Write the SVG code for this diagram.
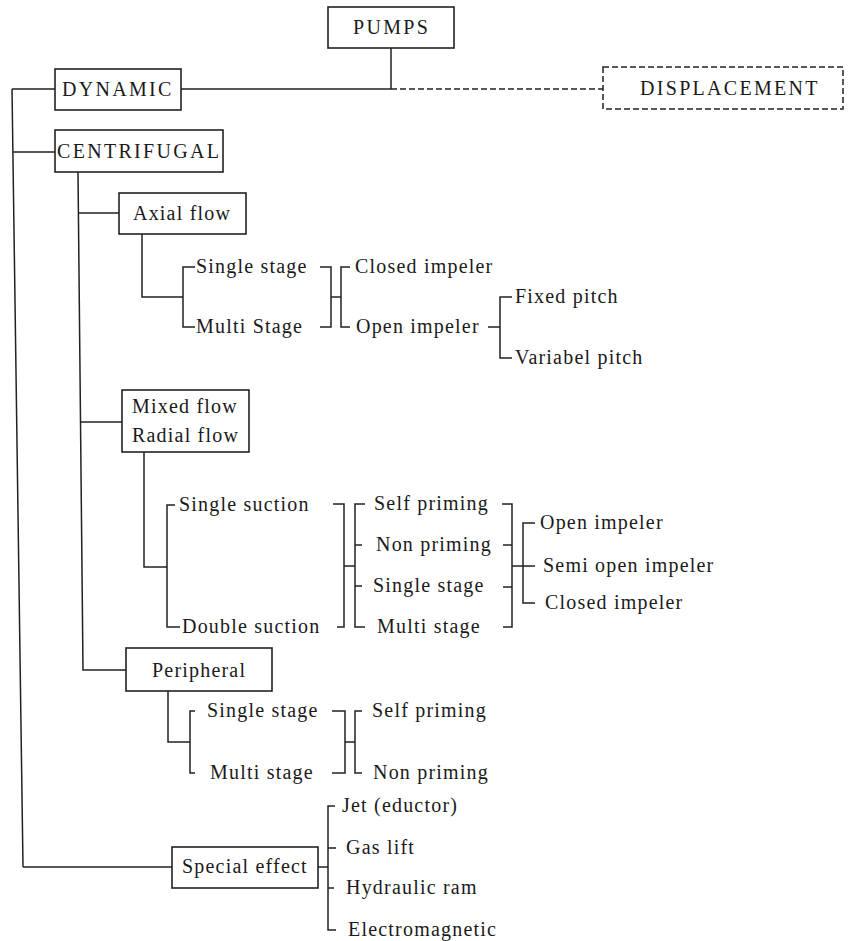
<svg xmlns="http://www.w3.org/2000/svg" width="850" height="941" viewBox="0 0 850 941">
<style>
.box{fill:#fff;stroke:#222;stroke-width:1.6}
.dbox{fill:#fff;stroke:#222;stroke-width:1.5;stroke-dasharray:6 3}
.ln{stroke:#222;stroke-width:1.5;fill:none}
.dl{stroke-dasharray:6 3}
text{font-family:"Liberation Serif","Times New Roman",serif;font-size:20px;fill:#1a1a1a;letter-spacing:1.2px}
.caps{letter-spacing:2.3px}
</style>
<rect width="850" height="941" fill="#fff"/>
<g id="connectors">
<path class="ln" d="M391,48 V89 M181,89 H391"/>
<path class="ln dl" d="M391,89 H603"/>
<path class="ln" d="M12,89 L23,867 M12,89 H55 M13,152 H55 M23,867 H172"/>
<path class="ln" d="M78,172 L83,670 H126 M78,213 H119 M81,422 H122"/>
<path class="ln" d="M142,234 V297 H183 M195,267 H183 V327 H195 M320,267 H331 V327 H320 M331,297 H341 M350,267 H341 V327 H350 M488,327 H500 M512,297 H500 V358 H512"/>
<path class="ln" d="M144,452 V567 H167 M175,505 H167 V627 H180 M333,504 H344 V627 H337 M344,566 H355 M365,504 H355 V627 H365 M355,545 H362 M355,586 H362 M502,504 H512 V627 H503 M503,545 H512 M503,587 H512 M512,566 H523 M535,523 H523 V603 H535 M523,566 H535"/>
<path class="ln" d="M168,691 V742 H190 M195,711 H190 V773 H195 M332,711 H345 V773 H332 M345,742 H355 M362,711 H355 V773 H362"/>
<path class="ln" d="M318,867 H328 M335,806 H328 V930 H336 M328,848 H336 M328,888 H334"/>
</g>
<g id="pumps"><rect class="box" x="328" y="7" width="126" height="41"/><text class="caps" x="353" y="34">PUMPS</text></g>
<g id="dynamic"><rect class="box" x="55" y="69" width="126" height="41"/><text class="caps" x="62" y="96">DYNAMIC</text></g>
<g id="displacement"><rect class="dbox" x="603" y="67" width="240" height="42"/><text class="caps" x="640" y="95">DISPLACEMENT</text></g>
<g id="centrifugal"><rect class="box" x="55" y="130" width="168" height="42"/><text class="caps" x="57" y="158">CENTRIFUGAL</text></g>
<g id="axial"><rect class="box" x="119" y="193" width="127" height="41"/><text x="133" y="220">Axial flow</text></g>
<g id="ax-single"><text x="196" y="273">Single stage</text></g>
<g id="ax-multi"><text x="196" y="333">Multi Stage</text></g>
<g id="ax-closed"><text x="355" y="273">Closed impeler</text></g>
<g id="ax-open"><text x="356" y="333">Open impeler</text></g>
<g id="ax-fixed"><text x="515" y="303">Fixed pitch</text></g>
<g id="ax-var"><text x="515" y="364">Variabel pitch</text></g>
<g id="mixed"><rect class="box" x="122" y="390" width="127" height="62"/><text x="132" y="413">Mixed flow</text><text x="132" y="442">Radial flow</text></g>
<g id="mx-ssuc"><text x="179" y="511">Single suction</text></g>
<g id="mx-dsuc"><text x="182" y="633">Double suction</text></g>
<g id="mx-self"><text x="374" y="510">Self priming</text></g>
<g id="mx-non"><text x="376" y="551">Non priming</text></g>
<g id="mx-single"><text x="373" y="592">Single stage</text></g>
<g id="mx-multi"><text x="377" y="633">Multi stage</text></g>
<g id="mx-open"><text x="540" y="529">Open impeler</text></g>
<g id="mx-semi"><text x="543" y="572">Semi open impeler</text></g>
<g id="mx-closed"><text x="545" y="609">Closed impeler</text></g>
<g id="peripheral"><rect class="box" x="126" y="648" width="146" height="43"/><text x="152" y="677">Peripheral</text></g>
<g id="pe-single"><text x="207" y="717">Single stage</text></g>
<g id="pe-multi"><text x="210" y="779">Multi stage</text></g>
<g id="pe-self"><text x="372" y="717">Self priming</text></g>
<g id="pe-non"><text x="373" y="779">Non priming</text></g>
<g id="special"><rect class="box" x="172" y="847" width="146" height="41"/><text x="182" y="873">Special effect</text></g>
<g id="sp-jet"><text x="342" y="812">Jet (eductor)</text></g>
<g id="sp-gas"><text x="346" y="854">Gas lift</text></g>
<g id="sp-ram"><text x="346" y="894">Hydraulic ram</text></g>
<g id="sp-em"><text x="348" y="936">Electromagnetic</text></g>
</svg>
